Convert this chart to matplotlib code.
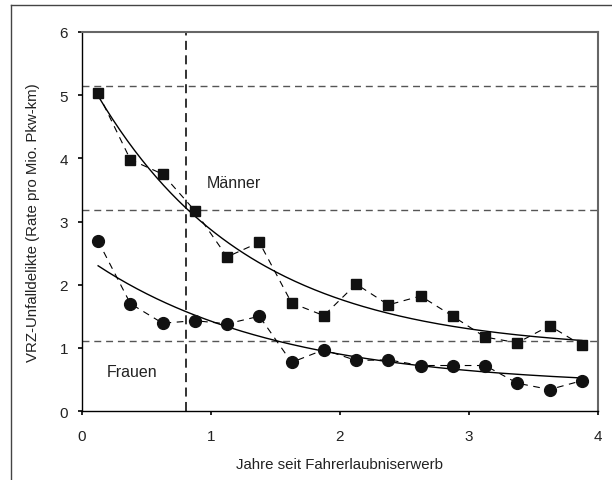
import numpy as np
import matplotlib
matplotlib.use("Agg")
import matplotlib.pyplot as plt
from matplotlib.lines import Line2D

plt.rcParams['font.family'] = ['Liberation Sans', 'DejaVu Sans']

# Data
years = [0.125, 0.375, 0.625, 0.875, 1.125, 1.375, 1.625, 1.875,
         2.125, 2.375, 2.625, 2.875, 3.125, 3.375, 3.625, 3.875]
maenner = [5.03, 3.98, 3.75, 3.17, 2.44, 2.67, 1.71, 1.51,
           2.01, 1.68, 1.82, 1.50, 1.17, 1.08, 1.35, 1.04]
frauen = [2.69, 1.70, 1.39, 1.43, 1.38, 1.50, 0.77, 0.97,
          0.80, 0.81, 0.72, 0.72, 0.72, 0.44, 0.34, 0.48]

# Trend curves: y = c + a * exp(-b * x)
trend_maenner = dict(a=4.49, b=0.85, c=0.95)
trend_frauen = dict(a=2.09, b=0.70, c=0.384)

ref_h = [5.14, 3.18, 1.11]
ref_v = 0.81

xticks = [0, 1, 2, 3, 4]
yticks = [0, 1, 2, 3, 4, 5, 6]

fig = plt.figure(figsize=(6.12, 4.81), dpi=100)
ax = fig.add_axes([82/612, 1-412/481, (598-82)/612, (412-33)/481])

# outer frame
fig.add_artist(Line2D([11/612, 11/612], [0, 1-6/481], transform=fig.transFigure,
                      color='#444444', lw=1.0))
fig.add_artist(Line2D([11/612, 1], [1-6/481, 1-6/481], transform=fig.transFigure,
                      color='#444444', lw=1.0))

for yv in ref_h:
    ax.axhline(yv, color='#555555', lw=1.0, ls=(0, (5, 3.5)), zorder=1)
ax.axvline(ref_v, color='#222222', lw=1.3, ls=(0, (5, 3)), zorder=1)

xs_m = np.linspace(years[0], years[-1], 200)
ax.plot(xs_m, trend_maenner['c'] + trend_maenner['a'] * np.exp(-trend_maenner['b'] * xs_m),
        color='black', lw=1.0, zorder=3)
ax.plot(xs_m, trend_frauen['c'] + trend_frauen['a'] * np.exp(-trend_frauen['b'] * xs_m),
        color='black', lw=1.0, zorder=3)

ax.plot(years, maenner, color='black', lw=0.8, ls=(0, (6, 5)), marker='s',
        markersize=7.5, markerfacecolor='#111111', markeredgecolor='#111111', zorder=4)
ax.plot(years, frauen, color='black', lw=0.8, ls=(0, (6, 5)), marker='o',
        markersize=8.5, markerfacecolor='#111111', markeredgecolor='#111111', zorder=4)

ax.text(0.97, 3.62, 'Männer', fontsize=11.5, color='#222222', va='center', ha='left')
ax.text(0.19, 0.63, 'Frauen', fontsize=11.5, color='#222222', va='center', ha='left')

ax.set_xlim(0, 4)
ax.set_ylim(0, 6)
ax.set_xticks(xticks)
ax.set_yticks(yticks)
ax.tick_params(axis='both', direction='out', length=3, width=1.2, color='black',
               labelsize=11, labelcolor='#222222')
ax.tick_params(axis='x', pad=10)
ax.tick_params(axis='y', pad=7)

for s in ['left', 'bottom']:
    ax.spines[s].set_color('black')
    ax.spines[s].set_linewidth(1.0)
for s in ['top', 'right']:
    ax.spines[s].set_color('#666666')
    ax.spines[s].set_linewidth(1.5)

ax.set_xlabel('Jahre seit Fahrerlaubniserwerb', fontsize=10.8, color='#222222', labelpad=10)
ax.set_ylabel('VRZ-Unfalldelikte (Rate pro Mio. Pkw-km)', fontsize=10.8, color='#222222',
              labelpad=14)

fig.savefig('out.png', dpi=100)
